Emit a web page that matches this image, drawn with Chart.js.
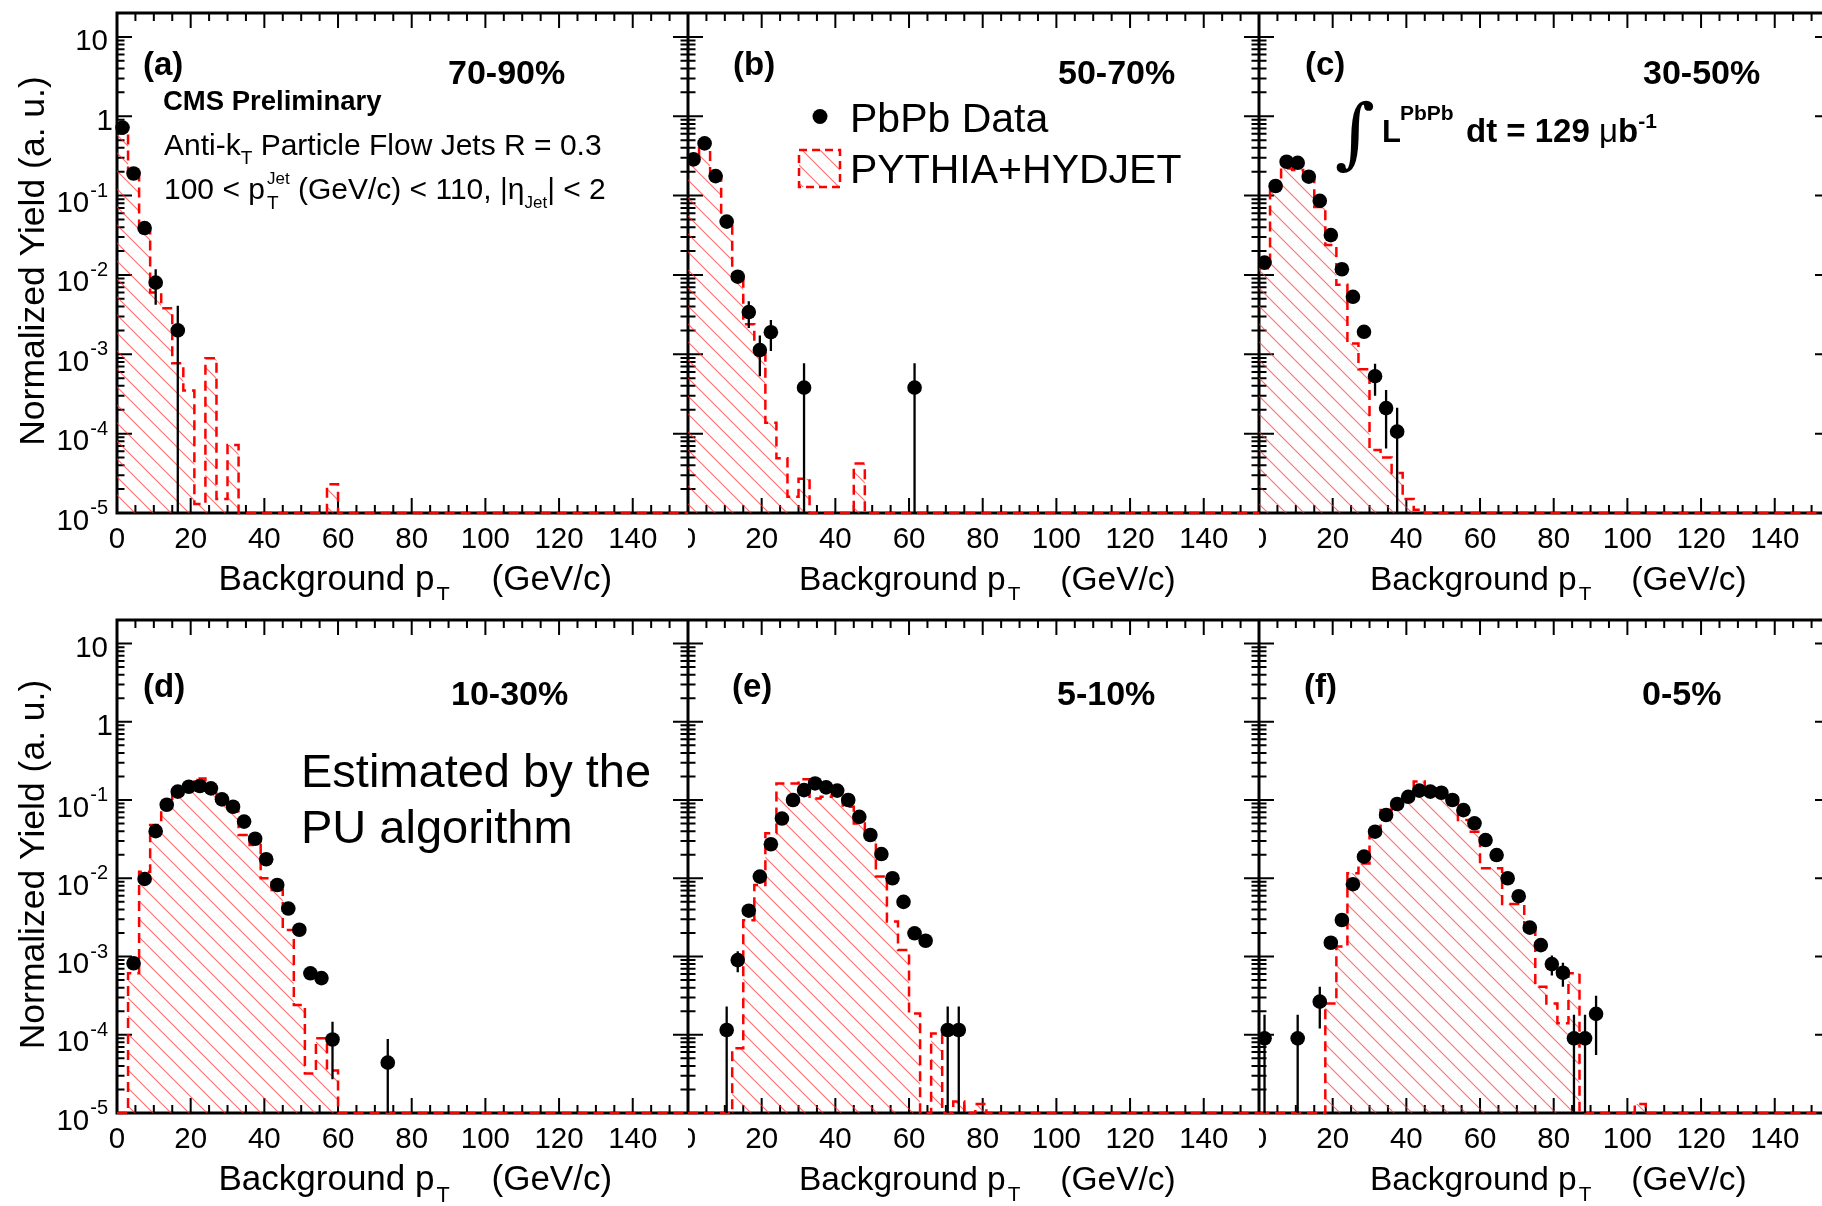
<!DOCTYPE html>
<html>
<head>
<meta charset="utf-8">
<script src="https://cdn.jsdelivr.net/npm/chart.js@4.4.0/dist/chart.umd.min.js"></script>
<style>
  html, body { margin: 0; padding: 0; background: #fff; overflow: hidden; }
  body { width: 1822px; height: 1206px; position: relative; }
  canvas { position: absolute; }
</style>
</head>
<body>
<canvas id="pa"></canvas>
<canvas id="pb"></canvas>
<canvas id="pc"></canvas>
<canvas id="pd"></canvas>
<canvas id="pe"></canvas>
<canvas id="pf"></canvas>
<script>
const BIN = 3;            // histogram bin width, GeV/c
const X_MAX = 155;
const Y_MIN = 1e-5, Y_MAX = 20;

const xTicks = [0, 20, 40, 60, 80, 100, 120, 140];
const yTicks = [10, 1, 1e-1, 1e-2, 1e-3, 1e-4, 1e-5];

// (a) 70-90%
const dataX_a = [1.5, 4.5, 7.5, 10.5, 16.5];
const dataY_a = [0.72, 0.19, 0.039, 0.0080, 0.0020];
const dataErr_a = [0.01, 0.005, 0.0015, 0.0038, 0.0021];
const mc_a = [0.68, 0.19, 0.035, 0.006, 0.0038, 7.7e-4, 3.5e-4, 1.3e-5, 8.9e-4, 1.5e-5, 7.2e-5,
  0, 0, 0, 0, 0, 0, 0, 0, 2.3e-5];

// (b) 50-70%
const dataX_b = [1.5, 4.5, 7.5, 10.5, 13.5, 16.5, 19.5, 22.5, 31.5, 61.5];
const dataY_b = [0.286, 0.455, 0.176, 0.047, 0.0095, 0.0034, 0.00113, 0.0019, 3.8e-4, 3.8e-4];
const dataErr_b = [0.008, 0.01, 0.006, 0.003, 0.0012, 0.00125, 0.0006, 0.0008, 3.9e-4, 3.9e-4];
const mc_b = [0.267, 0.455, 0.176, 0.0447, 0.0097, 0.0024, 0.00119, 1.37e-4, 4.9e-5, 1.6e-5, 2.7e-5,
  0, 0, 0, 0, 4.2e-5];

// (c) 30-50%
const dataX_c = [1.5, 4.5, 7.5, 10.5, 13.5, 16.5, 19.5, 22.5, 25.5, 28.5, 31.5, 34.5, 37.5];
const dataY_c = [0.0143, 0.132, 0.267, 0.259, 0.173, 0.086, 0.0318, 0.0118, 0.0053, 0.00192, 5.3e-4, 2.1e-4, 1.06e-4];
const dataErr_c = [0.001, 0.004, 0.006, 0.006, 0.005, 0.003, 0.0012, 0.0006, 0.0003, 0.00015, 2.3e-4, 1.45e-4, 1.06e-4];
const mc_c = [0.0121, 0.13, 0.22, 0.21, 0.157, 0.072, 0.0238, 0.0075, 0.00137, 6.5e-4, 6.2e-5, 5e-5, 3.2e-5, 1.5e-5, 1.1e-5];

// (d) 10-30%
const dataX_d = [4.5, 7.5, 10.5, 13.5, 16.5, 19.5, 22.5, 25.5, 28.5, 31.5, 34.5, 37.5, 40.5, 43.5, 46.5, 49.5, 52.5, 55.5, 58.5, 73.5];
const dataY_d = [8.2e-4, 0.0098, 0.040, 0.087, 0.128, 0.148, 0.151, 0.141, 0.102, 0.082, 0.053, 0.032, 0.0175, 0.0082, 0.0041, 0.0022, 6.1e-4, 5.3e-4, 8.7e-5, 4.4e-5];
const dataErr_d = [1e-4, 5e-4, 0.001, 0.002, 0.002, 0.002, 0.002, 0.002, 0.002, 0.0015, 0.001, 0.0008, 0.0005, 0.0003, 0.0002, 0.00015, 6e-5, 9e-5, 6e-5, 4.4e-5];
const mc_d = [0, 6.1e-4, 0.0121, 0.048, 0.091, 0.134, 0.163, 0.189, 0.134, 0.091, 0.071, 0.0357, 0.0266, 0.010, 0.0071, 0.00218,
  2.4e-4, 3.2e-5, 9e-5, 3.5e-5];

// (e) 5-10%
const dataX_e = [10.5, 13.5, 16.5, 19.5, 22.5, 25.5, 28.5, 31.5, 34.5, 37.5, 40.5, 43.5, 46.5, 49.5, 52.5, 55.5, 58.5, 61.5, 64.5, 70.5, 73.5];
const dataY_e = [1.15e-4, 9.0e-4, 0.00385, 0.0105, 0.0272, 0.058, 0.100, 0.134, 0.163, 0.145, 0.132, 0.100, 0.061, 0.0357, 0.0204, 0.0100, 0.0050, 0.00198, 0.00159, 1.15e-4, 1.15e-4];
const dataErr_e = [1.15e-4, 2.7e-4, 5e-4, 8e-4, 0.001, 0.002, 0.002, 0.002, 0.002, 0.002, 0.002, 0.002, 0.0015, 0.001, 0.0008, 0.0005, 0.0003, 0.00015, 0.00012, 1.15e-4, 1.15e-4];
const mc_e = [0, 0, 0, 0, 6.7e-5, 0.0029, 0.0082, 0.0376, 0.163, 0.163, 0.184, 0.105, 0.110, 0.115, 0.082, 0.050, 0.0357, 0.0105,
  0.0028, 0.00121, 1.87e-4, 0, 1.04e-4, 0, 1.4e-5, 0, 1.3e-5];

// (f) 0-5%
const dataX_f = [1.5, 10.5, 16.5, 19.5, 22.5, 25.5, 28.5, 31.5, 34.5, 37.5, 40.5, 43.5, 46.5, 49.5, 52.5, 55.5, 58.5, 61.5, 64.5, 67.5, 70.5, 73.5, 76.5, 79.5, 82.5, 85.5, 88.5, 91.5];
const dataY_f = [9e-5, 9e-5, 2.65e-4, 0.0015, 0.00293, 0.0084, 0.0189, 0.0394, 0.0644, 0.089, 0.110, 0.132, 0.128, 0.124, 0.100, 0.0743, 0.0504, 0.0308, 0.0198, 0.0100, 0.0059, 0.00234, 0.0014, 8.0e-4, 6.2e-4, 9e-5, 9e-5, 1.85e-4];
const dataErr_f = [9e-5, 9e-5, 1.45e-4, 1.5e-4, 3e-4, 5e-4, 8e-4, 0.001, 0.0015, 0.002, 0.002, 0.002, 0.002, 0.002, 0.002, 0.0015, 0.0012, 0.0008, 0.0006, 0.0004, 0.0003, 0.0002, 0.00015, 2.3e-4, 2.1e-4, 9e-5, 9e-5, 1.3e-4];
const mc_f = [0, 0, 0, 0, 0, 0, 2.5e-4, 0.00134, 0.0116, 0.0155, 0.034, 0.0746, 0.091, 0.116, 0.172, 0.141, 0.134, 0.095,
  0.0556, 0.0394, 0.0134, 0.0134, 0.0047, 0.0047, 0.00218, 4.1e-4, 2.5e-4, 1.4e-4, 6.1e-4, 0, 0, 0, 0, 0, 1.3e-5];

const SANS = '"Liberation Sans", Arial, Helvetica, sans-serif';
const SERIF = '"DejaVu Serif", "Liberation Serif", serif';
const MARKER_R = 7.3;

// text runs with sub/superscripts; "at" pins a run to an x position
function rich(ctx, x, y, parts) {
  let cx = x;
  for (const s of parts) {
    ctx.font = (s.b ? 'bold ' : '') + s.size + 'px ' + (s.f || SANS);
    if (s.at !== undefined) cx = s.at;
    ctx.fillText(s.t, cx, y + (s.dy || 0));
    if (!s.stay) cx += ctx.measureText(s.t).width + (s.gap || 0);
  }
}

function makeHatch(ctx) {
  const s = 18;
  const tile = document.createElement('canvas');
  tile.width = s; tile.height = s;
  const g = tile.getContext('2d');
  g.strokeStyle = 'rgba(255, 50, 50, 0.7)';
  g.lineWidth = 1.1;
  g.beginPath();
  g.moveTo(-2, -2); g.lineTo(s + 2, s + 2);
  g.moveTo(-2, s - 2); g.lineTo(2, s + 2);
  g.moveTo(s - 2, -2); g.lineTo(s + 2, 2);
  g.stroke();
  return ctx.createPattern(tile, 'repeat');
}

// step histogram vertices from bin contents, empty bins sit on the floor
function histPoints(mc) {
  const pts = mc.map((v, i) => ({ x: i * BIN, y: Math.max(v, Y_MIN) }));
  pts.push({ x: mc.length * BIN, y: Y_MIN });
  pts.push({ x: X_MAX, y: Y_MIN });
  return pts;
}

const top1 = { padT: 13, padB: 87, h: 600, top: 0 };
const top2 = { padT: 20, padB: 93, h: 606, top: 600 };

const panels = [
  { id: 'pa', left: 0, w: 688, padL: 117, row: top1, first: true,
    ptX: dataX_a, ptY: dataY_a, ptErr: dataErr_a, mc: mc_a,
    notes: [
      { x: 143, y: 75, parts: [{ t: '(a)', b: 1, size: 33 }] },
      { x: 448, y: 84, parts: [{ t: '70-90%', b: 1, size: 34 }] },
      { x: 163, y: 110, parts: [{ t: 'CMS Preliminary', b: 1, size: 27.5 }] },
      { x: 164, y: 155, parts: [{ t: 'Anti-k', size: 30 }, { t: 'T', size: 19, dy: 9 }, { t: ' Particle Flow Jets R = 0.3', size: 30 }] },
      { x: 164, y: 199, parts: [{ t: '100 < p', size: 30, gap: 2 }, { t: 'T', size: 19, dy: 10, stay: true },
        { t: 'Jet', size: 17, dy: -15 }, { t: ' (GeV/c) < 110, |η', size: 30 }, { t: 'Jet', size: 17, dy: 9 }, { t: '| < 2', size: 30 }] }
    ] },
  { id: 'pb', left: 688, w: 571, padL: 0, row: top1, legend: true,
    ptX: dataX_b, ptY: dataY_b, ptErr: dataErr_b, mc: mc_b,
    notes: [
      { x: 45, y: 75, parts: [{ t: '(b)', b: 1, size: 33 }] },
      { x: 370, y: 84, parts: [{ t: '50-70%', b: 1, size: 34 }] }
    ] },
  { id: 'pc', left: 1259, w: 571, padL: 0, row: top1,
    ptX: dataX_c, ptY: dataY_c, ptErr: dataErr_c, mc: mc_c,
    notes: [
      { x: 46, y: 75, parts: [{ t: '(c)', b: 1, size: 33 }] },
      { x: 384, y: 84, parts: [{ t: '30-50%', b: 1, size: 34 }] },
      { x: 76, y: 159, parts: [{ t: '∫', size: 77, f: SERIF }] },
      { x: 123, y: 142, parts: [{ t: 'L', b: 1, size: 31 }, { t: 'PbPb', b: 1, size: 21, dy: -22, at: 141 },
        { t: 'dt = 129 ', b: 1, size: 33, at: 207 }, { t: 'μ', size: 33 }, { t: 'b', b: 1, size: 33 },
        { t: '-1', b: 1, size: 21, dy: -14 }] }
    ] },
  { id: 'pd', left: 0, w: 688, padL: 117, row: top2, first: true,
    ptX: dataX_d, ptY: dataY_d, ptErr: dataErr_d, mc: mc_d,
    notes: [
      { x: 143, y: 97, parts: [{ t: '(d)', b: 1, size: 33 }] },
      { x: 451, y: 105, parts: [{ t: '10-30%', b: 1, size: 34 }] },
      { x: 301, y: 187, parts: [{ t: 'Estimated by the', size: 47 }] },
      { x: 301, y: 243, parts: [{ t: 'PU algorithm', size: 47 }] }
    ] },
  { id: 'pe', left: 688, w: 571, padL: 0, row: top2,
    ptX: dataX_e, ptY: dataY_e, ptErr: dataErr_e, mc: mc_e,
    notes: [
      { x: 44, y: 97, parts: [{ t: '(e)', b: 1, size: 33 }] },
      { x: 369, y: 105, parts: [{ t: '5-10%', b: 1, size: 34 }] }
    ] },
  { id: 'pf', left: 1259, w: 571, padL: 0, row: top2,
    ptX: dataX_f, ptY: dataY_f, ptErr: dataErr_f, mc: mc_f,
    notes: [
      { x: 45, y: 97, parts: [{ t: '(f)', b: 1, size: 33 }] },
      { x: 383, y: 105, parts: [{ t: '0-5%', b: 1, size: 34 }] }
    ] }
];

function drawFrame(chart) {
  const { ctx, chartArea: a, scales: { x, y } } = chart;
  ctx.save();
  ctx.strokeStyle = '#000';
  ctx.lineWidth = 2;
  ctx.beginPath();
  for (let v = 0; v <= X_MAX; v += 5) {
    const px = x.getPixelForValue(v);
    const len = v % 20 === 0 ? 15 : 8;
    ctx.moveTo(px, a.bottom); ctx.lineTo(px, a.bottom - len);
    ctx.moveTo(px, a.top); ctx.lineTo(px, a.top + len);
  }
  for (let e = -5; e <= 1; e++) {
    for (let m = 1; m <= 9; m++) {
      const v = m * Math.pow(10, e);
      if (v > Y_MAX) break;
      const py = y.getPixelForValue(v);
      const len = m === 1 ? 15 : 7.5;
      ctx.moveTo(a.left, py); ctx.lineTo(a.left + len, py);
      ctx.moveTo(a.right, py); ctx.lineTo(a.right - len, py);
    }
  }
  ctx.stroke();
  ctx.lineWidth = 3;
  ctx.strokeRect(a.left, a.top, a.right - a.left, a.bottom - a.top);
  ctx.restore();
}

function drawErrors(chart, p) {
  const { ctx, scales: { x, y } } = chart;
  ctx.save();
  ctx.strokeStyle = '#000';
  ctx.lineWidth = 2.3;
  ctx.beginPath();
  p.ptX.forEach((xv, i) => {
    const px = x.getPixelForValue(xv);
    const hi = p.ptY[i] + p.ptErr[i];
    const lo = Math.max(p.ptY[i] - p.ptErr[i], Y_MIN);
    ctx.moveTo(px, y.getPixelForValue(hi));
    ctx.lineTo(px, y.getPixelForValue(lo));
  });
  ctx.stroke();
  ctx.restore();
}

function drawLabels(chart, p) {
  const { ctx, chartArea: a, scales: { x, y } } = chart;
  ctx.save();
  ctx.fillStyle = '#000';
  ctx.textBaseline = 'alphabetic';

  // x tick labels
  ctx.font = '29.5px ' + SANS;
  ctx.textAlign = 'center';
  xTicks.forEach(v => ctx.fillText(String(v), x.getPixelForValue(v), a.bottom + 34.5));

  // y tick labels and title only on the left column
  if (p.first) {
    ctx.textAlign = 'right';
    yTicks.forEach(v => {
      const py = y.getPixelForValue(v);
      const exp = Math.round(Math.log10(v));
      if (exp >= 0) {
        ctx.font = '29.5px ' + SANS;
        ctx.fillText(String(v), exp === 0 ? 113 : 108, py + 13.5);
      } else {
        ctx.font = '20px ' + SANS;
        const sup = String(exp);
        ctx.fillText(sup, 108, py + 1);
        const w = ctx.measureText(sup).width;
        ctx.font = '29.5px ' + SANS;
        ctx.fillText('10', 108 - w - 1, py + 16.5);
      }
    });
    ctx.save();
    ctx.translate(44, (a.top + a.bottom) / 2 - 2);
    ctx.rotate(-Math.PI / 2);
    ctx.textAlign = 'center';
    ctx.font = '35.5px ' + SANS;
    ctx.fillText('Normalized Yield (a. u.)', 0, 0);
    ctx.restore();
  }

  // x title
  ctx.textAlign = 'left';
  const F = p.first ? 35 : 33.5;
  const tx = p.first ? 218.5 : 111;
  rich(ctx, tx, a.bottom + 77, [
    { t: 'Background p', size: F, gap: 2 },
    { t: 'T', size: F * 0.62, dy: F * 0.34 },
    { t: '(GeV/c)', size: F, at: tx + 7.8 * F }
  ]);

  p.notes.forEach(n => rich(ctx, n.x, n.y, n.parts));

  if (p.legend) {
    ctx.beginPath();
    ctx.arc(132, 116.5, 7.5, 0, 2 * Math.PI);
    ctx.fill();
    rich(ctx, 162, 131.5, [{ t: 'PbPb Data', size: 41 }]);
    ctx.fillStyle = p.hatch;
    ctx.fillRect(111, 150, 41, 37);
    ctx.setLineDash([8, 5]);
    ctx.strokeStyle = '#ff0000';
    ctx.lineWidth = 2.5;
    ctx.strokeRect(111, 150, 41, 37);
    ctx.setLineDash([]);
    ctx.fillStyle = '#000';
    rich(ctx, 162, 182.5, [{ t: 'PYTHIA+HYDJET', size: 41 }]);
  }
  ctx.restore();
}

function rootPlugin(p) {
  return {
    id: 'rootStyle',
    beforeDatasetsDraw(chart) { drawFrame(chart); },
    afterDatasetDraw(chart, args) { if (args.index === 1) drawErrors(chart, p); },
    afterDraw(chart) { drawLabels(chart, p); }
  };
}

panels.forEach(p => {
  const cv = document.getElementById(p.id);
  cv.width = p.w;
  cv.height = p.row.h;
  cv.style.left = p.left + 'px';
  cv.style.top = p.row.top + 'px';
  const ctx = cv.getContext('2d');
  p.hatch = makeHatch(ctx);

  new Chart(ctx, {
    type: 'scatter',
    data: {
      datasets: [
        {
          type: 'scatter',
          data: p.ptX.map((v, i) => ({ x: v, y: p.ptY[i] })),
          pointRadius: MARKER_R,
          pointHoverRadius: MARKER_R,
          backgroundColor: '#000',
          borderWidth: 0,
          order: 0,
          clip: 10
        },
        {
          type: 'line',
          data: histPoints(p.mc),
          stepped: true,
          borderColor: '#ff0000',
          borderWidth: 2.5,
          borderDash: [10, 6],
          pointRadius: 0,
          fill: 'start',
          backgroundColor: p.hatch,
          order: 1,
          clip: { left: 0, top: 0, right: 0, bottom: 3 }
        }
      ]
    },
    options: {
      responsive: false,
      animation: false,
      devicePixelRatio: 1,
      events: [],
      layout: { autoPadding: false, padding: { left: p.padL, top: p.row.padT, right: 0, bottom: p.row.padB } },
      scales: {
        x: { type: 'linear', min: 0, max: X_MAX, display: false },
        y: { type: 'logarithmic', min: Y_MIN, max: Y_MAX, display: false }
      },
      plugins: { legend: { display: false }, tooltip: { enabled: false } }
    },
    plugins: [rootPlugin(p)]
  });
});
</script>
</body>
</html>
